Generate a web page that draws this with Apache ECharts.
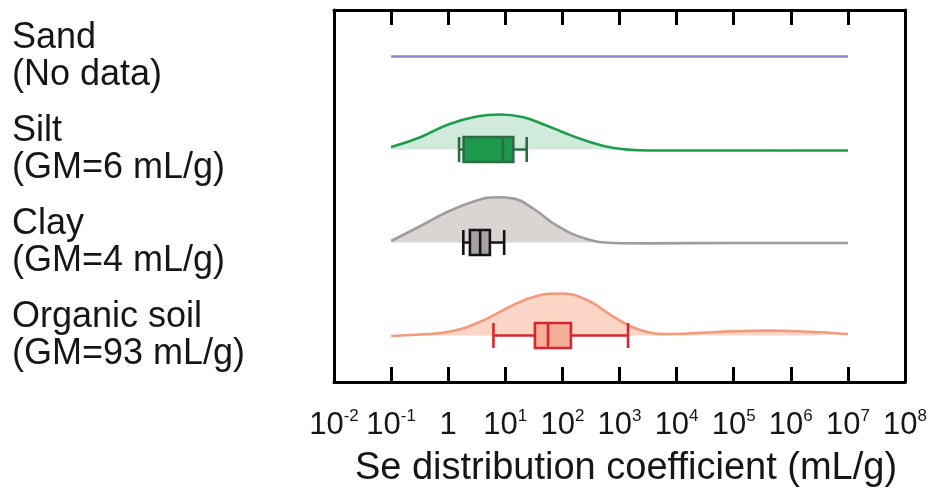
<!DOCTYPE html>
<html><head><meta charset="utf-8">
<script src="https://cdn.jsdelivr.net/npm/echarts@6/dist/echarts.min.js"></script>
<style>html,body{margin:0;padding:0;background:#fff}#c{width:935px;height:497px}</style>
</head><body><div id="c"></div>
<script>
// ---- data ----
const categories = ['Sand', 'Silt', 'Clay', 'Organic soil'];
const subLabels = ['(No data)', '(GM=6 mL/g)', '(GM=4 mL/g)', '(GM=93 mL/g)'];
const xTickExponents = [-2, -1, 0, 1, 2, 3, 4, 5, 6, 7, 8];
const axisTitle = 'Se distribution coefficient (mL/g)';

// density curves: log10(Kd) and relative density (row spacing = 1)
const sandLogKd = [-1, 7];
const sandDensity = [0, 0];
const siltLogKd = [-1, -0.5, 0, 0.5, 0.9, 1.3, 1.7, 2.0, 2.4, 2.9, 3.5, 4.5, 5.5, 7];
const siltDensity = [0.027, 0.129, 0.269, 0.355, 0.376, 0.349, 0.263, 0.188, 0.097, 0.016, -0.011, -0.011, -0.011, -0.011];
const clayLogKd = [-1, -0.5, 0, 0.5, 0.85, 1.15, 1.5, 1.9, 2.4, 2.9, 3.5, 5, 7];
const clayDensity = [0.016, 0.172, 0.333, 0.452, 0.487, 0.472, 0.36, 0.183, 0.043, -0.005, -0.009, -0.005, -0.005];
const organicLogKd = [-1, -0.5, 0, 0.55, 1.14, 1.55, 1.96, 2.43, 2.89, 3.36, 3.9, 4.7, 5.6, 6.4, 7];
const organicDensity = [-0.005, 0.011, 0.038, 0.145, 0.328, 0.425, 0.452, 0.382, 0.204, 0.059, 0.016, 0.038, 0.052, 0.038, 0.016];

// box plots: [min, Q1, median, Q3, max] in mL/g
const siltBox = [1.55, 1.86, 9.1, 13.8, 23.7];
const clayBox = [1.84, 2.4, 3.63, 5.37, 9.55];
const organicBox = [6.2, 33, 56, 141, 1410];

// ---- chart ----
const FONT = 'Liberation Sans, Arial, Helvetica, sans-serif';
const INK = '#161616';
const rowBase = [3.5, 2.5, 1.5, 0.5];

function densitySeries(logs, dens, base, lineColor, fillColor) {
  const s = {
    type: 'line', xAxisIndex: 0, yAxisIndex: 1,
    data: logs.map((l, i) => [Math.pow(10, l), base + dens[i]]),
    smooth: 0.45, symbol: 'none', silent: true, z: 2,
    lineStyle: { color: lineColor, width: 2.6 }
  };
  if (fillColor) s.areaStyle = { color: fillColor, opacity: 1, origin: base };
  return s;
}

const axisBlack = { color: '#000', width: 3 };
const xCommon = {
  type: 'log', logBase: 10, min: 0.01, max: 1e8, splitNumber: 10, interval: 1,
  axisLine: { lineStyle: axisBlack, onZero: false },
  axisTick: { inside: true, length: 15, lineStyle: axisBlack },
  splitLine: { show: false }, minorTick: { show: false }
};

const option = {
  animation: false,
  backgroundColor: '#fff',
  grid: { left: 334, right: 30, top: 10, bottom: 115 },
  xAxis: [
    Object.assign({}, xCommon, {
      position: 'bottom',
      axisLabel: {
        margin: 26, showMinLabel: true, showMaxLabel: true,
        formatter: function (v) {
          const e = Math.round(Math.log10(v));
          if (xTickExponents.indexOf(e) < 0) return '';
          return e === 0 ? '{b|1}' : '{b|10}{s|' + e + '}';
        },
        rich: {
          b: { fontSize: 31, fontFamily: FONT, color: INK, lineHeight: 34 },
          s: { fontSize: 17, fontFamily: FONT, color: INK, lineHeight: 17, verticalAlign: 'top' }
        }
      },
      name: axisTitle, nameLocation: 'middle', nameGap: 68,
      nameTextStyle: { fontSize: 38, fontFamily: FONT, color: INK, padding: [0, 0, 0, 13] }
    }),
    Object.assign({}, xCommon, { position: 'top', axisLabel: { show: false } })
  ],
  yAxis: [
    {
      type: 'category', data: categories, inverse: true, position: 'left',
      axisLine: { lineStyle: axisBlack },
      axisTick: { inside: true, length: 40, alignWithLabel: true, lineStyle: axisBlack },
      axisLabel: {
        align: 'left', margin: 322, fontSize: 36, lineHeight: 37, fontFamily: FONT, color: INK,
        formatter: function (v) { return v + '\n' + subLabels[categories.indexOf(v)]; }
      },
      splitLine: { show: false }
    },
    { type: 'value', min: 0, max: 4, show: false },
    {
      type: 'category', data: categories, inverse: true, position: 'right',
      axisLine: { lineStyle: axisBlack },
      axisTick: { inside: true, length: 40, alignWithLabel: true, lineStyle: axisBlack },
      axisLabel: { show: false }, splitLine: { show: false }
    }
  ],
  series: [
    densitySeries(sandLogKd, sandDensity, rowBase[0], '#8b87cd', null),
    densitySeries(siltLogKd, siltDensity, rowBase[1], '#1b9d4b', '#d0eadb'),
    densitySeries(clayLogKd, clayDensity, rowBase[2], '#a19c9a', '#d9d5d3'),
    densitySeries(organicLogKd, organicDensity, rowBase[3], '#f5997d', '#fbd5c6'),
    {
      type: 'boxplot', xAxisIndex: 0, yAxisIndex: 0, z: 4, silent: true,
      boxWidth: [25, 25],
      data: [
        { value: ['-', '-', '-', '-', '-'] },
        { value: siltBox, itemStyle: { color: '#1c9a4a', borderColor: '#2e6b45', borderWidth: 2.6 } },
        { value: clayBox, itemStyle: { color: '#a7a2a0', borderColor: '#141414', borderWidth: 2.6 } },
        { value: organicBox, itemStyle: { color: '#f5ae98', borderColor: '#d8262f', borderWidth: 2.6 } }
      ]
    }
  ]
};

const chart = echarts.init(document.getElementById('c'), null, { renderer: 'canvas' });
chart.setOption(option);
</script>
</body></html>
